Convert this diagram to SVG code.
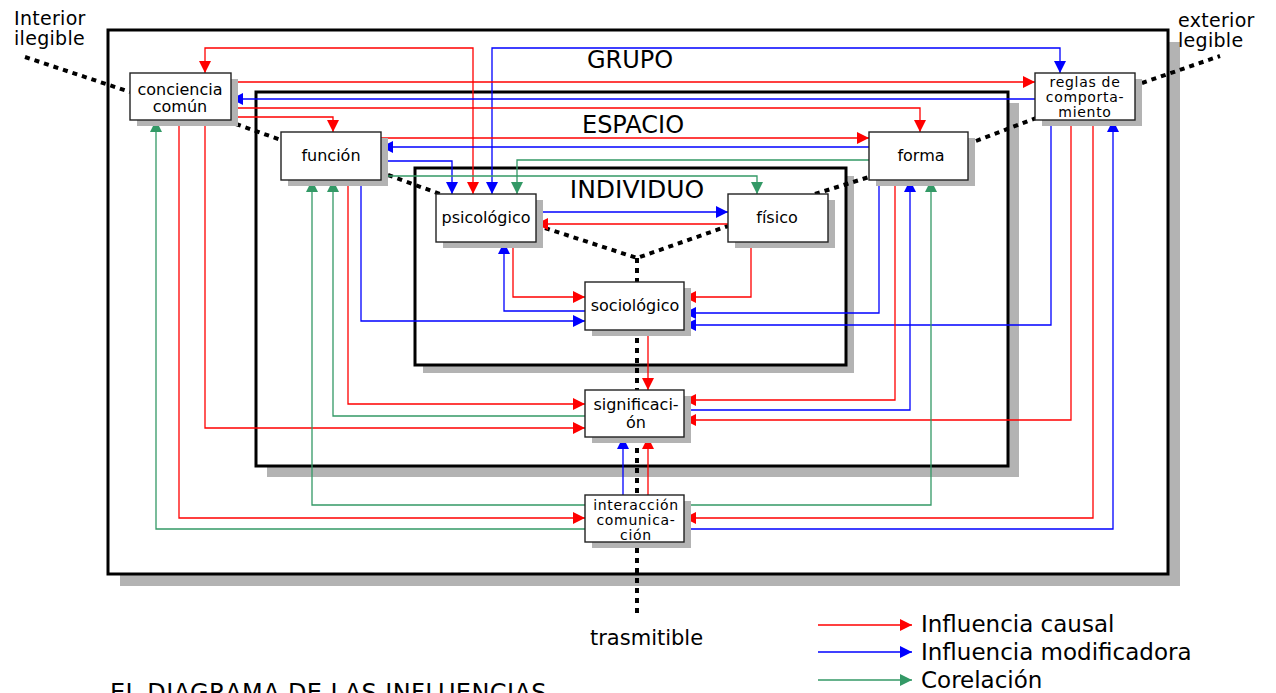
<svg xmlns="http://www.w3.org/2000/svg" width="1276" height="693" viewBox="0 0 1276 693">
<style>
text{font-family:"DejaVu Sans","Verdana",sans-serif;fill:#000}
.sh{fill:#b3b3b3}
.big{fill:#fff;stroke:#000;stroke-width:3}
.nd{fill:#fff;stroke:#222;stroke-width:1.4}
.nt{font-size:16px;text-anchor:middle}
.n3{font-size:14px;letter-spacing:0.7px;text-anchor:middle}
.ttl{font-size:24px;text-anchor:middle}
.lbl{font-size:19px;letter-spacing:0.3px}
.dot{fill:none;stroke:#000;stroke-width:4;stroke-dasharray:5 5}
.r{fill:none;stroke:#ff0000;stroke-width:1.3;marker-end:url(#ar)}
.b{fill:none;stroke:#0000ff;stroke-width:1.3;marker-end:url(#ab)}
.g{fill:none;stroke:#339966;stroke-width:1.3;marker-end:url(#ag)}
.rr{marker-start:url(#ar)}
.bb{marker-start:url(#ab)}
.leg{font-size:23px}
</style>
<defs>
<marker id="ar" viewBox="0 0 10 10" markerUnits="userSpaceOnUse" markerWidth="12" markerHeight="12" refX="10" refY="5" orient="auto-start-reverse"><path d="M0,0 L10,5 L0,10 z" fill="#ff0000"/></marker>
<marker id="ab" viewBox="0 0 10 10" markerUnits="userSpaceOnUse" markerWidth="12" markerHeight="12" refX="10" refY="5" orient="auto-start-reverse"><path d="M0,0 L10,5 L0,10 z" fill="#0000ff"/></marker>
<marker id="ag" viewBox="0 0 10 10" markerUnits="userSpaceOnUse" markerWidth="12" markerHeight="12" refX="10" refY="5" orient="auto-start-reverse"><path d="M0,0 L10,5 L0,10 z" fill="#339966"/></marker>
</defs>
<rect width="1276" height="693" fill="#fff"/>

<g id="grupo">
<rect class="sh" x="120" y="42" width="1060" height="544"/>
<rect class="big" x="108" y="30" width="1060" height="544"/>
<text class="ttl" x="630" y="68">GRUPO</text>
</g>
<g id="espacio">
<rect class="sh" x="267" y="103" width="752" height="374"/>
<rect class="big" x="256" y="92" width="752" height="374"/>
<text class="ttl" x="633" y="133">ESPACIO</text>
</g>
<g id="individuo">
<rect class="sh" x="423" y="176" width="431" height="197"/>
<rect class="big" x="415" y="168" width="431" height="197"/>
<text class="ttl" x="637" y="198" style="font-size:25px">INDIVIDUO</text>
</g>

<g id="dotted">
<polyline class="dot" points="25,57 130,92"/>
<polyline class="dot" points="236,124 281,140"/>
<polyline class="dot" points="388,175 440,194"/>
<polyline class="dot" points="545,228 637,258 728,226"/>
<polyline class="dot" points="637,258 637,615"/>
<polyline class="dot" points="815,194 869,177"/>
<polyline class="dot" points="976,141 1036,118"/>
<polyline class="dot" points="1142,83 1220,56"/>
</g>

<g id="connectors">
<polyline class="r rr" points="205,73 205,48 473,48 473,194"/>
<polyline class="b bb" points="492,194 492,48 1060,48 1060,73"/>
<polyline class="r" points="231,82 1035,82"/>
<polyline class="b" points="1035,99 231,99"/>
<polyline class="r" points="231,108 920,108 920,132"/>
<polyline class="r" points="231,117 333,117 333,132"/>
<polyline class="r" points="381,138 869,138"/>
<polyline class="b" points="869,147 381,147"/>
<polyline class="b" points="381,161 452,161 452,194"/>
<polyline class="g" points="869,160 517,160 517,194"/>
<polyline class="g" points="381,176 757,176 757,194"/>
<polyline class="b" points="536,212 728,212"/>
<polyline class="r" points="728,224 536,224"/>
<polyline class="r" points="513,242 513,297 585,297"/>
<polyline class="b" points="585,311 504,311 504,242"/>
<polyline class="b" points="361,180 361,321 585,321"/>
<polyline class="r" points="751,242 751,297 684,297"/>
<polyline class="b" points="879,180 879,313 684,313"/>
<polyline class="b" points="1051,120 1051,325 684,325"/>
<polyline class="r" points="648,330 648,390"/>
<polyline class="r" points="348,180 348,404 585,404"/>
<polyline class="g" points="585,416 333,416 333,180"/>
<polyline class="r" points="205,120 205,428 585,428"/>
<polyline class="r" points="895,180 895,400 684,400"/>
<polyline class="b" points="684,410 910,410 910,180"/>
<polyline class="r" points="1071,120 1071,420 684,420"/>
<polyline class="b" points="623,495 623,437"/>
<polyline class="r" points="648,495 648,437"/>
<polyline class="g" points="585,505 312,505 312,180"/>
<polyline class="r" points="179,120 179,518 585,518"/>
<polyline class="g" points="585,529 156,529 156,120"/>
<polyline class="g" points="684,505 931,505 931,180"/>
<polyline class="r" points="1093,120 1093,518 684,518"/>
<polyline class="b" points="684,529 1113,529 1113,120"/>
</g>

<g id="n-conciencia">
<rect class="sh" x="137" y="79" width="101" height="47"/>
<rect class="nd" x="130" y="73" width="101" height="47"/>
<text class="nt" x="180" y="95">conciencia</text>
<text class="nt" x="180" y="112">común</text>
</g>
<g id="n-funcion">
<rect class="sh" x="288" y="138" width="100" height="48"/>
<rect class="nd" x="281" y="132" width="100" height="48"/>
<text class="nt" x="331" y="161">función</text>
</g>
<g id="n-forma">
<rect class="sh" x="876" y="138" width="99" height="48"/>
<rect class="nd" x="869" y="132" width="99" height="48"/>
<text class="nt" x="921" y="161">forma</text>
</g>
<g id="n-reglas">
<rect class="sh" x="1042" y="79" width="100" height="47"/>
<rect class="nd" x="1035" y="73" width="100" height="47"/>
<text class="n3" x="1085" y="87">reglas de</text>
<text class="n3" x="1085" y="102">comporta-</text>
<text class="n3" x="1085" y="117">miento</text>
</g>
<g id="n-psicologico">
<rect class="sh" x="443" y="200" width="100" height="48"/>
<rect class="nd" x="436" y="194" width="100" height="48"/>
<text class="nt" x="486" y="223">psicológico</text>
</g>
<g id="n-fisico">
<rect class="sh" x="735" y="200" width="100" height="48"/>
<rect class="nd" x="728" y="194" width="100" height="48"/>
<text class="nt" x="777" y="223">físico</text>
</g>
<g id="n-sociologico">
<rect class="sh" x="592" y="288" width="99" height="48"/>
<rect class="nd" x="585" y="282" width="99" height="48"/>
<text class="nt" x="635" y="311">sociológico</text>
</g>
<g id="n-significacion">
<rect class="sh" x="592" y="396" width="99" height="47"/>
<rect class="nd" x="585" y="390" width="99" height="47"/>
<text class="nt" x="636" y="410">significaci-</text>
<text class="nt" x="636" y="428">ón</text>
</g>
<g id="n-interaccion">
<rect class="sh" x="592" y="501" width="99" height="47"/>
<rect class="nd" x="585" y="495" width="99" height="47"/>
<text class="n3" x="636" y="510">interacción</text>
<text class="n3" x="636" y="525">comunica-</text>
<text class="n3" x="636" y="540">ción</text>
</g>

<g id="labels">
<text class="lbl" x="14" y="25">Interior</text>
<text class="lbl" x="14" y="45">ilegible</text>
<text class="lbl" x="1178" y="27">exterior</text>
<text class="lbl" x="1178" y="47">legible</text>
<text class="lbl" x="590" y="645" style="font-size:21px;letter-spacing:0">trasmitible</text>
<text x="110" y="701" style="font-size:24px;letter-spacing:0.4px">EL DIAGRAMA DE LAS INFLUENCIAS</text>
</g>

<g id="legend">
<line class="r" x1="818" y1="625" x2="912" y2="625"/>
<line class="b" x1="818" y1="652" x2="912" y2="652"/>
<line class="g" x1="818" y1="680" x2="912" y2="680"/>
<text class="leg" x="921" y="632">Influencia causal</text>
<text class="leg" x="921" y="660">Influencia modificadora</text>
<text class="leg" x="921" y="688">Corelación</text>
</g>
</svg>
